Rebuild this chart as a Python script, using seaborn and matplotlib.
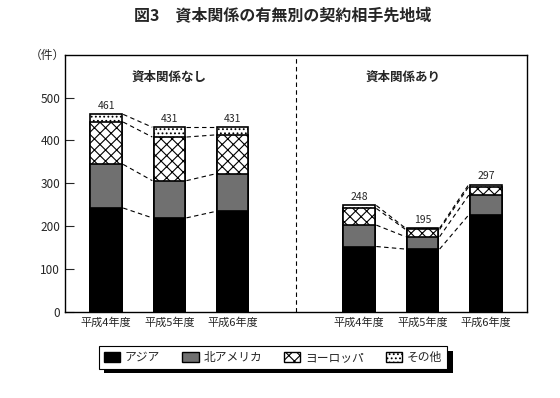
import matplotlib
matplotlib.use("Agg")
import matplotlib.pyplot as plt
from matplotlib.patches import Patch, Rectangle
import seaborn as sns
import pandas as pd
import numpy as np

sns.set_style("white")
plt.rcParams["font.family"] = ["Noto Sans CJK JP", "DejaVu Sans"]
plt.rcParams["hatch.linewidth"] = 0.8

# データ
years = ["平成4年度", "平成5年度", "平成6年度", "平成4年度", "平成5年度", "平成6年度"]
groups = ["資本関係なし", "資本関係あり"]
regions = ["アジア", "北アメリカ", "ヨーロッパ", "その他"]
asia = [242, 219, 234, 152, 146, 226]
north_america = [102, 87, 88, 50, 29, 46]
europe = [99, 102, 91, 39, 17, 20]
other = [18, 23, 18, 7, 3, 5]
totals = [461, 431, 431, 248, 195, 297]

pos = [0, 1, 2, 4, 5, 6]
layers = [asia, north_america, europe, other]
cum = np.cumsum(np.array(layers), axis=0)

colors = ["black", "#707070", "white", "white"]
hatches = [None, None, "xxx", "...."]

fig = plt.figure(figsize=(5.6, 3.98), dpi=100)
ax = fig.add_axes([0.116, 0.2173, 0.825, 0.6447])

# 積み上げ棒（上の層から順に描く）
for i in range(3, -1, -1):
    n_before = len(ax.patches)
    df = pd.DataFrame({"pos": pos, "val": cum[i]})
    sns.barplot(data=df, x="pos", y="val", native_scale=True, width=0.5,
                color=colors[i], edgecolor="black", linewidth=1.2,
                saturation=1, ax=ax, errorbar=None)
    for p in ax.patches[n_before:]:
        p.set_facecolor(colors[i])
        if hatches[i]:
            p.set_hatch(hatches[i])

# 区切りの破線（同じグループ内）
for a, b in [(0, 1), (1, 2), (3, 4), (4, 5)]:
    for i in range(4):
        ax.plot([pos[a] + 0.27, pos[b] - 0.27], [cum[i][a], cum[i][b]],
                color="black", linestyle=(0, (4, 3)), linewidth=0.8)

for x, t in zip(pos, totals):
    ax.text(x, t + 8, str(t), ha="center", va="bottom", fontsize=7.5)

ax.axvline(3, color="black", linestyle=(0, (4, 3)), linewidth=0.8)
ax.text(1, 548, groups[0], ha="center", va="center", fontsize=9, fontweight="bold")
ax.text(4.7, 548, groups[1], ha="center", va="center", fontsize=9, fontweight="bold")

ax.set_xlim(-0.65, 6.65)
ax.set_ylim(0, 600)
ax.set_yticks([0, 100, 200, 300, 400, 500])
ax.set_xticks(pos)
ax.set_xticklabels(years, fontsize=8)
ax.set_xlabel("")
ax.set_ylabel("")
ax.tick_params(axis="y", direction="in", length=6.5, width=0.8, labelsize=8.5, left=True)
ax.tick_params(axis="x", length=0, pad=4)
for s in ax.spines.values():
    s.set_color("black")
    s.set_linewidth(1)

fig.text(0.505, 0.962, "図3　資本関係の有無別の契約相手先地域", ha="center", va="center",
         fontsize=11.5, fontweight="bold")
fig.text(0.085, 0.862, "（件）", ha="center", va="center", fontsize=8.5)

handles = [Patch(facecolor=colors[i], edgecolor="black", hatch=hatches[i], label=regions[i])
           for i in range(4)]
leg = fig.legend(handles=handles, ncol=4, loc="center",
                 bbox_to_anchor=(0.166, 0.102 - 0.03, 0.643, 0.06), mode="expand",
                 fontsize=8.5, frameon=True, fancybox=False, edgecolor="black",
                 facecolor="white", framealpha=1,
                 handlelength=1.4, handleheight=1.0, borderpad=0.4, handletextpad=0.4)
leg.get_frame().set_linewidth(0.8)

fig.canvas.draw()
bb = leg.get_window_extent().transformed(fig.transFigure.inverted())
fig.patches.append(Rectangle((bb.x0 + 0.01, bb.y0 - 0.012), bb.width, bb.height,
                             transform=fig.transFigure, facecolor="black",
                             edgecolor="none", zorder=leg.get_zorder() - 1))

fig.savefig("out.png", dpi=100, facecolor="white")
